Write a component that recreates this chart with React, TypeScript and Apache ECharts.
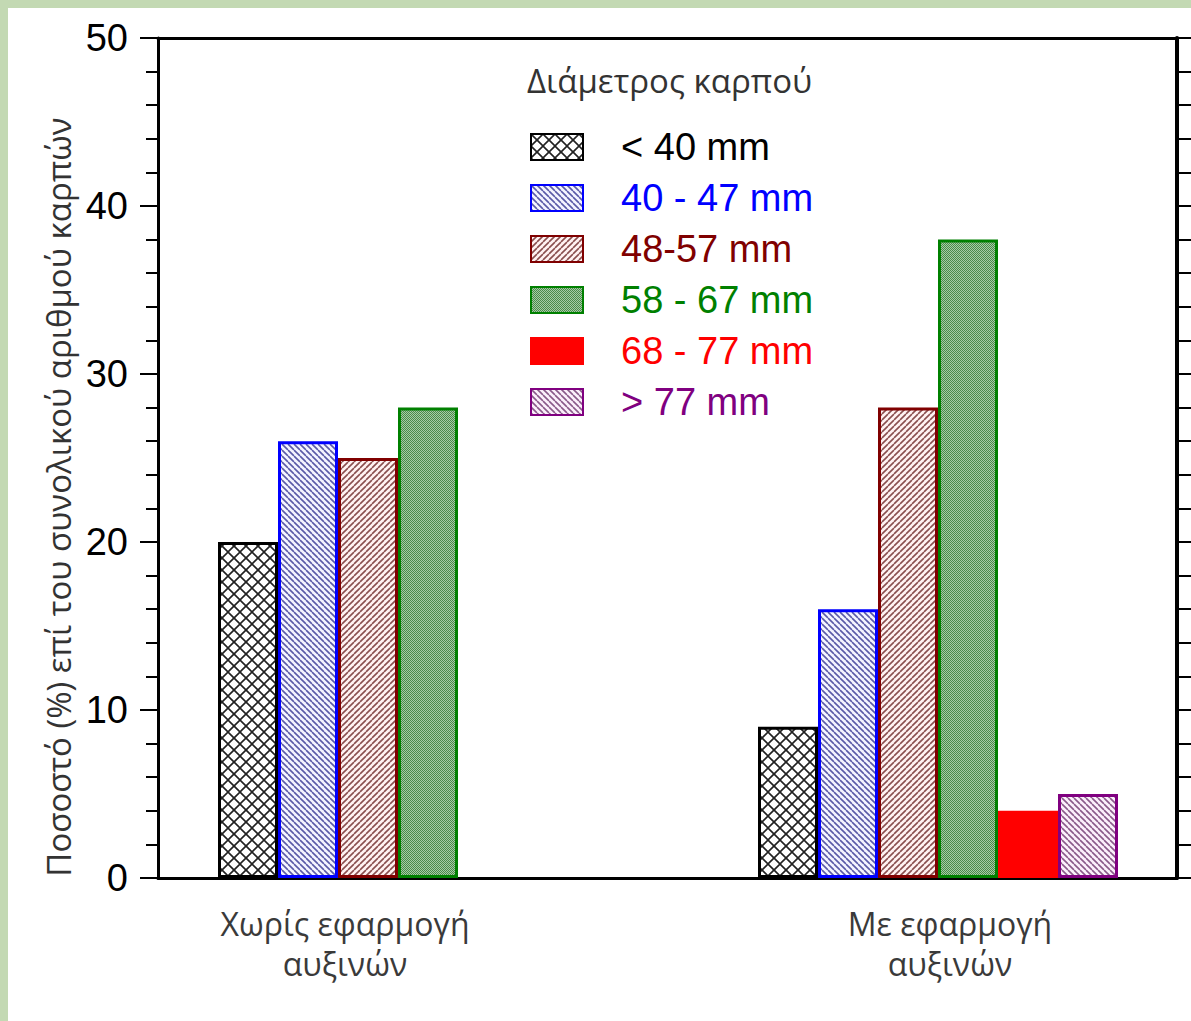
import React, { useEffect, useRef } from 'react';
import * as echarts from 'echarts';

const categories = ['Χωρίς εφαρμογή\nαυξινών', 'Με εφαρμογή\nαυξινών'];
const seriesNames = ['< 40 mm', '40 - 47 mm', '48-57 mm', '58 - 67 mm', '68 - 77 mm', '> 77 mm'];
const lt40 = [20, 9];
const d40to47 = [26, 16];
const d48to57 = [25, 28];
const d58to67 = [28, 38];
const d68to77 = [null, 4];
const gt77 = [null, 5];
const seriesValues = [lt40, d40to47, d48to57, d58to67, d68to77, gt77];
const yMin = 0;
const yMax = 50;
const yStep = 10;
const legendTitle = 'Διάμετρος καρπού';
const yTitle = 'Ποσοστό (%) επί του συνολικού αριθμού καρπών';

const borderColors = ['#000000', '#0000ff', '#800000', '#008000', '#ff0000', '#800080'];
const legendTextColors = ['#000000', '#0000ff', '#800000', '#008000', '#ff0000', '#800080'];

function tile(size: number, bg: string, draw: (ctx: CanvasRenderingContext2D, s: number) => void) {
  const c = document.createElement('canvas');
  c.width = size;
  c.height = size;
  const ctx = c.getContext('2d')!;
  ctx.fillStyle = bg;
  ctx.fillRect(0, 0, size, size);
  draw(ctx, size);
  return { image: c, repeat: 'repeat', imageWidth: size, imageHeight: size } as any;
}

function diag(ctx: CanvasRenderingContext2D, s: number, color: string, w: number, dir: 'back' | 'fwd') {
  ctx.strokeStyle = color;
  ctx.lineWidth = w;
  ctx.beginPath();
  for (const k of [-s, 0, s]) {
    if (dir === 'back') {
      ctx.moveTo(k, 0);
      ctx.lineTo(k + s, s);
    } else {
      ctx.moveTo(k, s);
      ctx.lineTo(k + s, 0);
    }
  }
  ctx.stroke();
}

function makePatterns() {
  const cross = tile(12, '#ffffff', (ctx, s) => {
    diag(ctx, s, '#222222', 1.6, 'back');
    diag(ctx, s, '#222222', 1.6, 'fwd');
  });
  const blue = tile(6, '#f4f4ff', (ctx, s) => diag(ctx, s, '#5a5aa8', 1.6, 'back'));
  const brown = tile(6, '#fff2f2', (ctx, s) => diag(ctx, s, '#8a4f4f', 1.6, 'fwd'));
  const green = tile(2, '#a6cca6', (ctx) => {
    ctx.fillStyle = '#4a8a4a';
    ctx.fillRect(0, 0, 1, 1);
    ctx.fillRect(1, 1, 1, 1);
  });
  const purple = tile(6, '#fbf0fb', (ctx, s) => diag(ctx, s, '#8a5a8a', 1.6, 'back'));
  return [cross, blue, brown, green, '#ff0000', purple];
}

export default function App() {
  const ref = useRef<HTMLDivElement>(null);
  useEffect(() => {
    if (!ref.current) return;
    const chart = echarts.init(ref.current, null, { renderer: 'svg' });
    const fills = makePatterns();
    const axisFont = 'Liberation Sans, Arial, sans-serif';
    const textFont = 'Open Sans, Noto Sans, sans-serif';
    const option: any = {
      animation: false,
      backgroundColor: '#c3d9b3',
      graphic: [
        {
          type: 'rect',
          z: -10,
          silent: true,
          shape: { x: 8, y: 8, width: 1183, height: 1013 },
          style: { fill: '#ffffff' },
        },
      ],
      title: {
        text: legendTitle,
        left: 527,
        top: 64,
        padding: 0,
        textStyle: { fontSize: 33, fontWeight: 'normal', fontFamily: textFont, color: '#333333' },
      },
      legend: {
        orient: 'vertical',
        left: 530,
        top: 127,
        padding: 0,
        itemWidth: 52,
        itemHeight: 26,
        itemGap: 11,
        icon: 'rect',
        selectedMode: false,
        textStyle: { fontSize: 38, fontFamily: axisFont, lineHeight: 40, padding: [0, 0, 0, 33] },
        data: seriesNames.map((n, i) => ({ name: n, textStyle: { color: legendTextColors[i] } })),
      },
      grid: [
        { left: 158, right: 14, top: 38, bottom: 143, outerBoundsMode: 'none', containLabel: false },
        { left: 128, width: 1080, top: 38, bottom: 143, outerBoundsMode: 'none', containLabel: false },
      ],
      xAxis: [
        {
          gridIndex: 0,
          type: 'category',
          data: ['a'],
          position: 'bottom',
          axisLine: { onZero: false, lineStyle: { color: '#000', width: 3 } },
          axisTick: { show: false },
          axisLabel: { show: false },
        },
        {
          gridIndex: 0,
          type: 'category',
          data: ['a'],
          position: 'top',
          axisLine: { onZero: false, lineStyle: { color: '#000', width: 3 } },
          axisTick: { show: false },
          axisLabel: { show: false },
        },
        {
          gridIndex: 1,
          type: 'category',
          data: categories,
          axisLine: { show: false },
          axisTick: { show: false },
          axisLabel: {
            margin: 25,
            formatter: (v: string, i: number) =>
              v
                .split('\n')
                .map((l) => `{${i === 0 ? 'a' : 'b'}|${l}}`)
                .join('\n'),
            rich: {
              a: { fontSize: 32, lineHeight: 40, color: '#3a3a3a', fontFamily: textFont, padding: [0, 106, 0, 0] },
              b: { fontSize: 32, lineHeight: 40, color: '#3a3a3a', fontFamily: textFont, padding: [0, 0, 0, 24] },
            },
          },
        },
      ],
      yAxis: [
        {
          gridIndex: 0,
          type: 'value',
          min: yMin,
          max: yMax,
          interval: yStep,
          position: 'left',
          name: yTitle,
          nameLocation: 'middle',
          nameGap: 80,
          nameRotate: 90,
          nameTextStyle: { fontSize: 33, fontFamily: textFont, color: '#333333', padding: [0, 78, 0, 0] },
          axisLine: { show: true, lineStyle: { color: '#000', width: 3 } },
          axisTick: { show: true, length: 18, lineStyle: { color: '#000', width: 2 } },
          minorTick: { show: true, splitNumber: 5, length: 12, lineStyle: { color: '#000', width: 2 } },
          axisLabel: { fontSize: 38, fontFamily: axisFont, color: '#000', margin: 30 },
          splitLine: { show: false },
        },
        {
          gridIndex: 0,
          type: 'value',
          min: yMin,
          max: yMax,
          interval: 2,
          position: 'right',
          axisLine: { show: true, lineStyle: { color: '#000', width: 4 } },
          axisTick: { show: true, length: 14, lineStyle: { color: '#000', width: 2 } },
          axisLabel: { show: false },
          splitLine: { show: false },
        },
        {
          gridIndex: 1,
          type: 'value',
          min: yMin,
          max: yMax,
          show: false,
          splitLine: { show: false },
        },
      ],
      series: seriesNames.map((n, i) => ({
        name: n,
        type: 'bar',
        xAxisIndex: 2,
        yAxisIndex: 2,
        barWidth: 60,
        barGap: '0%',
        data: seriesValues[i],
        itemStyle: { color: fills[i], borderColor: borderColors[i], borderWidth: 3 },
        emphasis: { disabled: true },
      })),
    };
    chart.setOption(option);
    return () => chart.dispose();
  }, []);
  return (
    <div
      ref={ref}
      style={{ position: 'absolute', left: 0, top: 0, width: 1191, height: 1021 }}
    />
  );
}
